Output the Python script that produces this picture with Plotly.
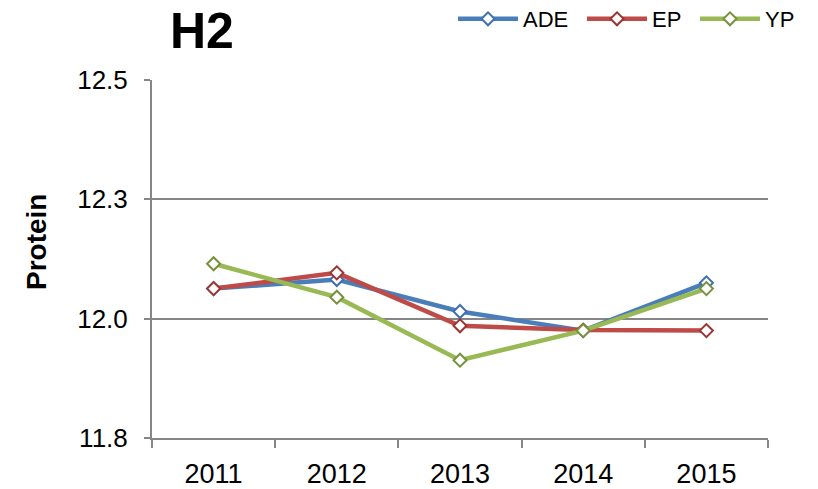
import plotly.graph_objects as go

years = ["2011", "2012", "2013", "2014", "2015"]
ade = [12.063, 12.082, 12.015, 11.975, 12.075]
ep = [12.063, 12.096, 11.985, 11.976, 11.975]
yp = [12.115, 12.045, 11.913, 11.975, 12.063]
y_tickvals = [11.75, 12.0, 12.25, 12.5]
y_ticktext = ["11.8", "12.0", "12.3", "12.5"]

series = [
    ("ADE", ade, "#4A7EBB", "#3F6FAE", "legend", 453),
    ("EP", ep, "#BE4B48", "#9C3431", "legend2", 582),
    ("YP", yp, "#98B954", "#76923C", "legend3", 695),
]

W, H = 818, 489
FONT = "Liberation Sans, Arial, sans-serif"
fig = go.Figure()
for name, vals, lc, mc, lg, _ in series:
    fig.add_trace(go.Scatter(
        x=years, y=vals, name=name, mode="lines+markers", legend=lg,
        line=dict(color=lc, width=4.5),
        marker=dict(symbol="diamond", size=10, color="white",
                    line=dict(color=mc, width=2)),
    ))

L, T = 152, 80
R, B = 50, 51
pw, ph = W - L - R, H - T - B

legends = {}
for name, vals, lc, mc, lg, lx in series:
    legends[lg] = dict(orientation="h", xref="container", yref="container",
                       x=lx / W, xanchor="left", y=1 - 19 / H, yanchor="middle",
                       font=dict(size=22, family=FONT), itemwidth=60,
                       bgcolor="rgba(0,0,0,0)")

fig.update_layout(
    width=W, height=H,
    margin=dict(l=L, r=R, t=T, b=B, autoexpand=False),
    plot_bgcolor="white", paper_bgcolor="white",
    font=dict(family=FONT, color="black"),
    title=dict(text="<b>H2</b>", font=dict(size=50, family=FONT, color="black"),
               xref="container", yref="container",
               x=170 / W, xanchor="left", y=1 - 30 / H, yanchor="middle"),
    showlegend=True,
    xaxis=dict(type="category", range=[-0.5, 4.5], tickson="boundaries",
               ticks="outside", ticklen=8, tickwidth=2, tickcolor="#868686",
               showline=True, linecolor="#868686", linewidth=2,
               showgrid=False, tickfont=dict(size=27, family=FONT),
               ticklabelstandoff=11, automargin=False),
    yaxis=dict(range=[11.75, 12.5], tickvals=y_tickvals, ticktext=y_ticktext,
               ticks="outside", ticklen=6, tickwidth=2, tickcolor="#868686",
               showline=True, linecolor="#868686", linewidth=2,
               showgrid=True, gridcolor="#868686", gridwidth=2,
               zeroline=False, tickfont=dict(size=26, family=FONT),
               ticklabelstandoff=11, automargin=False),
    annotations=[dict(text="<b>Protein</b>", textangle=-90,
                      xref="paper", yref="paper",
                      x=(36 - L) / pw, y=(H - B - 242) / ph,
                      xanchor="center", yanchor="middle", showarrow=False,
                      font=dict(size=28, family=FONT, color="black"))],
    **legends,
)

fig.write_html("out.html", config={"displayModeBar": False},
               post_script="document.body.style.margin='0px';")
